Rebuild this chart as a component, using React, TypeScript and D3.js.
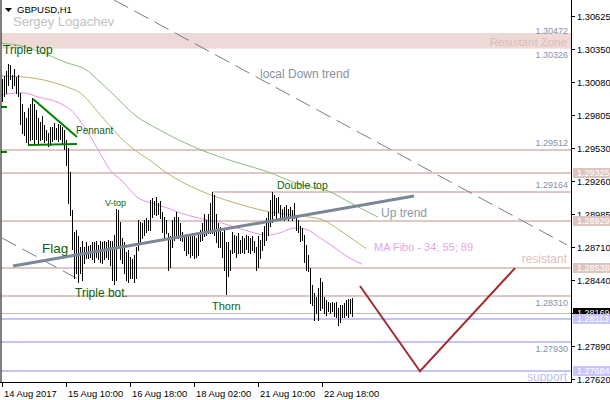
import React from 'react';
import * as d3 from 'd3';

const W = 610;
const H = 400;
const PR = 571; // plot right
const PB = 382; // plot bottom

// ---- data (GBPUSD H1 bars, high / low) ----
const highs = [
  1.3010, 1.3013, 1.3017, 1.3023, 1.3022, 1.3014, 1.3019, 1.3012, 1.3014,
  1.2999, 1.2990, 1.2983, 1.2978, 1.2986, 1.2990, 1.2995, 1.2990, 1.2985, 1.2978, 1.2975, 1.2980, 1.2972, 1.2968, 1.2966, 1.2971, 1.2971, 1.2974, 1.2970, 1.2973, 1.2972, 1.2971, 1.2968,
  1.2960, 1.2953, 1.2933, 1.2902, 1.2884, 1.2885, 1.2880, 1.2871, 1.2876, 1.2871,
  1.2875, 1.2872, 1.2873, 1.2875, 1.2875, 1.2876, 1.2873, 1.2876, 1.2875, 1.2876, 1.2875, 1.2877, 1.2876, 1.2876, 1.2881, 1.2903, 1.2902, 1.2892, 1.2879, 1.2875, 1.2867, 1.2869, 1.2863, 1.2861, 1.2865, 1.2871, 1.2894, 1.2892, 1.2891, 1.2894, 1.2895, 1.2894, 1.2910, 1.2912, 1.2909, 1.2913, 1.2908, 1.2909, 1.2900, 1.2896, 1.2894, 1.2883, 1.2880, 1.2894,
  1.2896, 1.2900, 1.2896, 1.2891, 1.2884, 1.2881, 1.2880, 1.2880, 1.2880, 1.2883, 1.2880, 1.2879, 1.2881, 1.2885, 1.2891, 1.2899, 1.2894, 1.2899, 1.2908, 1.2917, 1.2914, 1.2899, 1.2891, 1.2888, 1.2884, 1.2885, 1.2875, 1.2875, 1.2869, 1.2884, 1.2881, 1.2880, 1.2883, 1.2877, 1.2880, 1.2879, 1.2881, 1.2880, 1.2879, 1.2880, 1.2876, 1.2871, 1.2880,
  1.2877, 1.2884, 1.2889, 1.2895, 1.2900, 1.2910, 1.2917, 1.2914, 1.2912, 1.2913, 1.2906, 1.2903, 1.2904, 1.2906, 1.2903, 1.2904, 1.2902, 1.2908, 1.2898, 1.2894, 1.2889, 1.2887, 1.2881, 1.2873, 1.2865,
  1.2854, 1.2840, 1.2833, 1.2830, 1.2837, 1.2846, 1.2842, 1.2830, 1.2827, 1.2826, 1.2825, 1.2826, 1.2825, 1.2826, 1.2821, 1.2823, 1.2823, 1.2825, 1.2827, 1.2828, 1.2828, 1.2829,
];
const lows = [
  1.2992, 1.2996, 1.2999, 1.3005, 1.3010, 1.3003, 1.3005, 1.2999, 1.2996,
  1.2973, 1.2966, 1.2964, 1.2958, 1.2956, 1.2960, 1.2961, 1.2956, 1.2961, 1.2957, 1.2960, 1.2961, 1.2958, 1.2960, 1.2955, 1.2956, 1.2959, 1.2961, 1.2961, 1.2959, 1.2961, 1.2957, 1.2952,
  1.2939, 1.2908, 1.2898, 1.2870, 1.2846, 1.2850, 1.2842, 1.2850, 1.2844, 1.2858,
  1.2862, 1.2862, 1.2863, 1.2861, 1.2859, 1.2863, 1.2861, 1.2859, 1.2858, 1.2861, 1.2863, 1.2861, 1.2856, 1.2844, 1.2841, 1.2844, 1.2871, 1.2861, 1.2858, 1.2850, 1.2844, 1.2842, 1.2846, 1.2846, 1.2842, 1.2846, 1.2869, 1.2875, 1.2879, 1.2881, 1.2884, 1.2885, 1.2885, 1.2896, 1.2899, 1.2898, 1.2899, 1.2895, 1.2884, 1.2879, 1.2883, 1.2852, 1.2855, 1.2871,
  1.2877, 1.2880, 1.2879, 1.2877, 1.2876, 1.2869, 1.2865, 1.2866, 1.2863, 1.2865, 1.2862, 1.2863, 1.2865, 1.2876, 1.2877, 1.2880, 1.2881, 1.2883, 1.2883, 1.2883, 1.2881, 1.2875, 1.2871, 1.2871, 1.2863, 1.2852, 1.2832, 1.2847, 1.2852, 1.2866, 1.2867, 1.2863, 1.2866, 1.2866, 1.2867, 1.2866, 1.2870, 1.2867, 1.2866, 1.2869, 1.2867, 1.2852, 1.2855,
  1.2862, 1.2869, 1.2873, 1.2877, 1.2881, 1.2889, 1.2892, 1.2898, 1.2895, 1.2900, 1.2894, 1.2895, 1.2894, 1.2895, 1.2894, 1.2896, 1.2894, 1.2895, 1.2885, 1.2884, 1.2876, 1.2877, 1.2859, 1.2852, 1.2851,
  1.2825, 1.2823, 1.2811, 1.2817, 1.2811, 1.2819, 1.2821, 1.2817, 1.2815, 1.2818, 1.2817, 1.2818, 1.2814, 1.2813, 1.2807, 1.2809, 1.2813, 1.2813, 1.2815, 1.2813, 1.2817, 1.2814,
];

// moving averages: [bar index, price]
const ma34: [number, number][] = [
  [-1, 1.2997], [10, 1.2999], [19, 1.2995], [28, 1.2991], [36, 1.2982], [41, 1.2971], [48, 1.2952],
  [54, 1.2935], [60, 1.2926], [68, 1.2912], [74, 1.2908], [82, 1.2904], [90, 1.2899], [99, 1.2895],
  [108, 1.2892], [116, 1.2888], [124, 1.2884], [132, 1.2881], [139, 1.2883], [146, 1.2887],
  [152, 1.2886], [158, 1.2880], [166, 1.2871], [174, 1.2862], [180, 1.2857],
];
const ma55: [number, number][] = [
  [-1, 1.3013], [16, 1.3011], [32, 1.3004], [39, 1.2999], [49, 1.2981], [58, 1.2964], [66, 1.2952],
  [74, 1.2943], [82, 1.2933], [99, 1.2918], [116, 1.2908], [132, 1.2901], [149, 1.2897],
  [160, 1.2894], [169, 1.2885], [176, 1.2877], [182, 1.2870],
];
const ma89: [number, number][] = [
  [-1, 1.3040], [9, 1.3038], [19, 1.3033], [32, 1.3024], [42, 1.3018], [49, 1.3008], [56, 1.2997],
  [66, 1.2981], [79, 1.2968], [99, 1.2952], [116, 1.2942], [132, 1.2934], [149, 1.2923],
  [164, 1.2917], [174, 1.2908], [188, 1.2896],
];

const priceTicks = [1.30625, 1.3035, 1.3008, 1.29805, 1.2953, 1.2926, 1.28985, 1.2871, 1.2844, 1.28165, 1.2789, 1.2762];
const hiddenTick = 1.28165; // covered by the current-price box in the reference
const timeTickIndex = [0, 32, 64, 96, 128, 160];
const timeTickLabels = ['14 Aug 2017', '15 Aug 10:00', '16 Aug 18:00', '18 Aug 02:00', '21 Aug 10:00', '22 Aug 18:00'];

const resistZone = [1.30472, 1.30326];
const resistLevels = [1.29512, 1.29325, 1.29164, 1.28929, 1.28538, 1.2831];
const supportLevels = [1.28113, 1.2793, 1.27684];
const currentPrice = 1.28169;
const doubleTopStart = 105; // bar index where 1.29164 line starts

// trend lines: [bar index, price]
const upTrend: [number, number][] = [[5.5, 1.28555], [206, 1.29135]];
const downTrend: [number, number][] = [[56, 1.30758], [282.5, 1.2873]];
const downTrendLow: [number, number][] = [[0, 1.28787], [39, 1.28439]];
const pennantTop: [number, number][] = [[15.5, 1.29938], [37.5, 1.29623]];
const pennantBottom: [number, number][] = [[13, 1.29557], [37.5, 1.29565]];
const forecastV: [number, number][] = [[179, 1.2839], [209, 1.27684], [256.5, 1.28538]];

const FONT = "'Liberation Sans', Arial, sans-serif";

export default function App() {
  const x = d3.scaleLinear().domain([0, 175]).range([2, 352]);
  const y = d3.scaleLinear().domain([1.2762, 1.30625]).range([379, 16]);
  const ry = (p: number) => Math.round(y(p));

  const maLine = d3
    .line<[number, number]>()
    .x((d) => x(d[0]))
    .y((d) => y(d[1]))
    .curve(d3.curveMonotoneX);
  const straight = d3
    .line<[number, number]>()
    .x((d) => x(d[0]))
    .y((d) => y(d[1]));

  const pink = '#DEC8C3';
  const blue = '#C4C4F8';
  const greenText = '#0B620B';
  const levelLabel = '#8591A8';

  const zTop = y(resistZone[0]);
  const zBot = y(resistZone[1]);

  const boxH = 10;

  return (
    <>
      <style>{`body{margin:0;background:#fff}`}</style>
      <svg width={W} height={H} style={{ display: 'block' }} fontFamily={FONT}>
        <rect x={0} y={0} width={W} height={H} fill="#ffffff" />
        <defs>
          <clipPath id="plot">
            <rect x={1} y={0} width={PR - 1} height={PB} />
          </clipPath>
        </defs>

        <g clipPath="url(#plot)">
          {/* resistant zone */}
          <rect x={0} y={zTop - 1.5} width={PR} height={zBot - zTop - 2} fill="#EDDAD6" />
          <text x={567} y={(zTop + zBot) / 2 + 3} fontSize={11.5} textAnchor="end" fill="#E0BCB6">
            Resistant Zone
          </text>

          {/* resistance levels */}
          {resistLevels.map((p) => (
            <line
              key={'r' + p}
              x1={p === 1.29164 ? Math.round(x(doubleTopStart)) : 0}
              x2={PR}
              y1={ry(p)}
              y2={ry(p)}
              stroke={pink}
              strokeWidth={2}
            />
          ))}
          {/* current price */}
          <line x1={0} x2={PR} y1={ry(currentPrice) + 0.5} y2={ry(currentPrice) + 0.5} stroke="#C0C0C0" strokeWidth={1} />
          {/* support levels */}
          {supportLevels.map((p) => (
            <line key={'s' + p} x1={0} x2={PR} y1={ry(p)} y2={ry(p)} stroke={blue} strokeWidth={2} />
          ))}

          {/* moving averages */}
          <path d={maLine(ma89) || ''} fill="none" stroke="#8DBA84" strokeWidth={1} />
          <path d={maLine(ma55) || ''} fill="none" stroke="#BDB46A" strokeWidth={1} />
          <path d={maLine(ma34) || ''} fill="none" stroke="#E296E2" strokeWidth={1} />

          {/* dashed down trend channel */}
          <path d={straight(downTrend) || ''} fill="none" stroke="#6E7E90" strokeWidth={1} strokeDasharray="16,7" />
          <path d={straight(downTrendLow) || ''} fill="none" stroke="#6E7E90" strokeWidth={1} strokeDasharray="16,7" />

          {/* bars */}
          {highs.map((h, i) => (
            <line
              key={'b' + i}
              x1={Math.round(x(i)) + 0.5}
              x2={Math.round(x(i)) + 0.5}
              y1={Math.round(y(h))}
              y2={Math.round(y(lows[i])) + 1}
              stroke="#000"
              strokeWidth={1}
            />
          ))}

          {/* up trend */}
          <path d={straight(upTrend) || ''} fill="none" stroke="#7A8796" strokeWidth={3} />

          {/* pennant */}
          <path d={straight(pennantTop) || ''} fill="none" stroke="#008000" strokeWidth={2} />
          <path d={straight(pennantBottom) || ''} fill="none" stroke="#008000" strokeWidth={2} />
          <line x1={1} x2={7} y1={107} y2={107} stroke="#008000" strokeWidth={2} />
          <line x1={1} x2={7} y1={152} y2={152} stroke="#008000" strokeWidth={2} />

          {/* forecast V */}
          <path d={straight(forecastV) || ''} fill="none" stroke="#A52A2A" strokeWidth={2} />
        </g>

        {/* level value labels */}
        <g fontSize={9} fill={levelLabel} textAnchor="end">
          <text x={568} y={zTop - 0.5}>{resistZone[0].toFixed(5)}</text>
          <text x={568} y={zBot + 6}>{resistZone[1].toFixed(5)}</text>
          <text x={568} y={ry(1.29512) - 4}>{(1.29512).toFixed(5)}</text>
          <text x={568} y={ry(1.29164) - 4}>{(1.29164).toFixed(5)}</text>
          <text x={568} y={ry(1.2831) + 10}>{(1.2831).toFixed(5)}</text>
          <text x={568} y={ry(1.2793) + 10}>{(1.2793).toFixed(5)}</text>
        </g>
        <text x={567} y={ry(1.28538) - 5} fontSize={12} textAnchor="end" fill="#E2BEB8">resistant</text>
        <text x={567} y={ry(1.27684) + 10} fontSize={12} textAnchor="end" fill="#BCBCF0">support</text>

        {/* annotations */}
        <text x={260} y={78} fontSize={12} fill="#8890A0">local Down trend</text>
        <text x={381} y={217} fontSize={12} fill="#8A99AC">Up trend</text>
        <text x={374} y={251} fontSize={11} fill="#E6A6E6">MA Fibo - 34; 55; 89</text>
        <g fill={greenText}>
          <text x={3} y={54} fontSize={12}>Triple top</text>
          <text x={76} y={134} fontSize={10}>Pennant</text>
          <text x={105} y={206} fontSize={9}>V-top</text>
          <text x={42} y={253} fontSize={13.5}>Flag</text>
          <text x={75} y={297} fontSize={12}>Triple bot.</text>
          <text x={212} y={310} fontSize={11}>Thorn</text>
          <text x={277} y={189} fontSize={10.5}>Double top</text>
        </g>

        {/* header */}
        <path d="M5,8 L12,8 L8.5,12 Z" fill="#000" />
        <text x={17} y={13} fontSize={9.5} fill="#000">GBPUSD,H1</text>
        <text x={13} y={26} fontSize={13} fill="#C2C2C2">Sergey Logachev</text>

        {/* frame */}
        <line x1={1} x2={1} y1={0} y2={PB} stroke="#000" />
        <line x1={PR + 0.5} x2={PR + 0.5} y1={0} y2={PB + 0.5} stroke="#000" />
        <line x1={0} x2={PR + 1} y1={PB + 0.5} y2={PB + 0.5} stroke="#000" />

        {/* price axis */}
        {priceTicks.map((p) => (
          <g key={'t' + p}>
            <line x1={PR} x2={PR + 4} y1={ry(p) + 0.5} y2={ry(p) + 0.5} stroke="#000" />
            {p !== hiddenTick && (
              <text x={PR + 6} y={ry(p) + 3.5} fontSize={9.3} fill="#000">{p.toFixed(5)}</text>
            )}
          </g>
        ))}

        {/* axis price boxes */}
        {[1.29325, 1.28929, 1.28538].map((p) => (
          <g key={'pb' + p}>
            <rect x={PR + 2} y={ry(p) - boxH / 2} width={W - PR - 2} height={boxH} fill="#DCC4BF" />
            <text x={PR + 6} y={ry(p) + 3.3} fontSize={9} fill="#fff">{p.toFixed(5)}</text>
          </g>
        ))}
        <rect x={PR + 2} y={ry(currentPrice) - boxH / 2} width={W - PR - 2} height={boxH} fill="#000" />
        <text x={PR + 6} y={ry(currentPrice) + 3.3} fontSize={9} fill="#fff">{currentPrice.toFixed(5)}</text>
        {[1.28113, 1.27684].map((p) => (
          <g key={'sb' + p}>
            <rect x={PR + 2} y={ry(p) - boxH / 2} width={W - PR - 2} height={boxH} fill="#C6C6FA" />
            <text x={PR + 6} y={ry(p) + 3.3} fontSize={9} fill="#fff">{p.toFixed(5)}</text>
          </g>
        ))}

        {/* time axis */}
        {timeTickIndex.map((ti, k) => (
          <g key={'x' + ti}>
            <line x1={Math.round(x(ti)) + 0.5} x2={Math.round(x(ti)) + 0.5} y1={PB} y2={PB + 5} stroke="#000" />
            <text x={Math.round(x(ti)) + 2} y={397} fontSize={9.4} fill="#000">{timeTickLabels[k]}</text>
          </g>
        ))}
      </svg>
    </>
  );
}
